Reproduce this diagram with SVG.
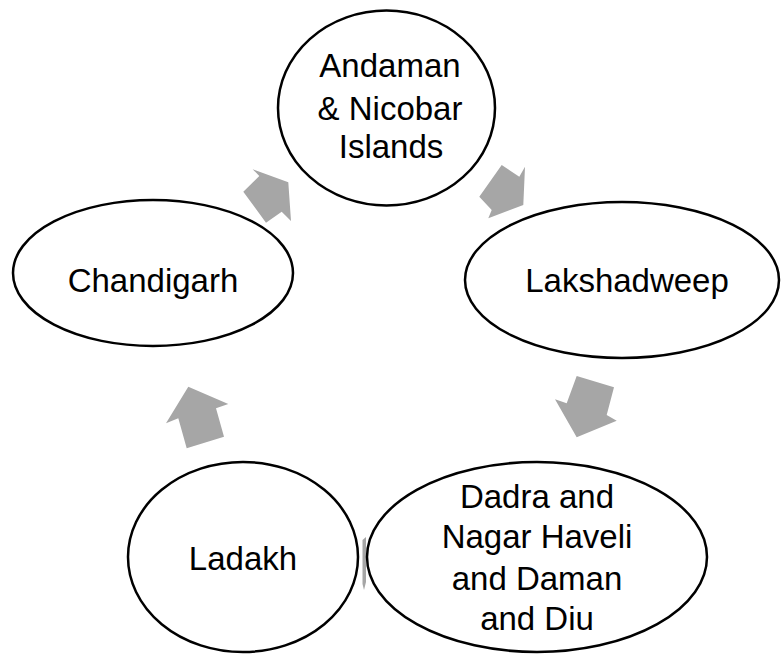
<svg xmlns="http://www.w3.org/2000/svg" width="781" height="655" viewBox="0 0 781 655">
<style>
.node{fill:#fff;stroke:#000;stroke-width:2.5}
.lbl{font-family:"Liberation Sans",Arial,sans-serif;font-size:33px;fill:#000;text-anchor:middle}
.arr{fill:#A6A6A6;stroke:none}
</style>
<rect width="781" height="655" fill="#fff"/>
<g id="connectors">
<polygon class="arr" points="252.7,169.3 288.3,182.3 291,221 281.7,211.7 266,222.7 243.3,191.7 259.3,176"/>
<polygon class="arr" points="501.7,165 519.3,176.7 525,166.7 523.3,205 488.3,218.3 491.7,210 479.3,196.7"/>
<polygon class="arr" points="576.7,376 614,387.3 606.7,415 616.7,420.7 576.7,437.3 555,399.3 566.7,403.3"/>
<polygon class="arr" points="362.5,540 366,537 366,582 364,590 362.5,584"/>
<polygon class="arr" points="188.3,386.7 228.3,404 216,408.3 224,436.7 186.7,448.3 178.3,418.3 166,423.3"/>
</g>
<g id="andaman">
<ellipse class="node" cx="386.5" cy="108" rx="108.5" ry="97.5"/>
<text class="lbl" x="390" y="77">Andaman</text>
<text class="lbl" x="390" y="120">&amp; Nicobar</text>
<text class="lbl" x="391" y="158">Islands</text>
</g>
<g id="lakshadweep">
<ellipse class="node" cx="622" cy="280" rx="157" ry="78"/>
<text class="lbl" x="627" y="292">Lakshadweep</text>
</g>
<g id="dadra">
<ellipse class="node" cx="537" cy="557" rx="170" ry="95"/>
<text class="lbl" x="537" y="508">Dadra and</text>
<text class="lbl" x="537" y="548">Nagar Haveli</text>
<text class="lbl" x="537" y="590">and Daman</text>
<text class="lbl" x="537" y="630">and Diu</text>
</g>
<g id="ladakh">
<ellipse class="node" cx="243" cy="557" rx="115" ry="95"/>
<text class="lbl" x="243" y="570">Ladakh</text>
</g>
<g id="chandigarh">
<ellipse class="node" cx="153" cy="273" rx="140" ry="73"/>
<text class="lbl" x="153" y="292">Chandigarh</text>
</g>
</svg>
